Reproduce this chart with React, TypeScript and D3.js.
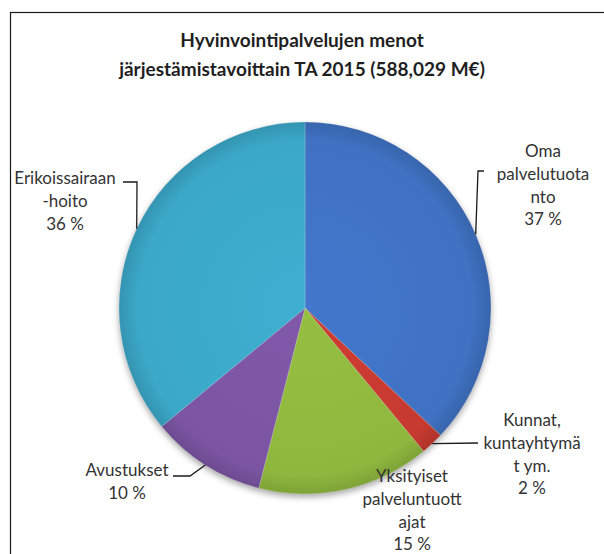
import React from 'react';
import * as d3 from 'd3';

// data
const categories = [
  'Oma palvelutuotanto',
  'Kunnat, kuntayhtymät ym.',
  'Yksityiset palveluntuottajat',
  'Avustukset',
  'Erikoissairaanhoito',
];
const shares = [37, 2, 15, 10, 36];
// label text as Excel wrapped it
const labelLines = [
  ['Oma', 'palvelutuota', 'nto'],
  ['Kunnat,', 'kuntayhtymä', 't ym.'],
  ['Yksityiset', 'palveluntuott', 'ajat'],
  ['Avustukset'],
  ['Erikoissairaan', '-hoito'],
];
const colors = ['#3F72C3', '#C63A30', '#8FB73E', '#7B55A3', '#3BA8C8'];
const titleLines = ['Hyvinvointipalvelujen menot', 'järjestämistavoittain TA 2015 (588,029 M€)'];

const W = 604;
const H = 554;
const cx = 305;
const cy = 308;
const R = 186;
const lineH = 22.8;

// label layout: [centre x, first line y]
const labelPos = [[543, 151], [532, 420], [412, 476], [127, 470], [65, 178]];
// leader start and elbow (end point comes from the slice mid angle)
const leaderPts: ([number, number][] | null)[] = [
  [[484, 171], [478, 171]],
  [[478, 443]],
  null,
  [[173, 476], [190, 476]],
  [[123, 182], [137, 182]],
];

const font = 'Lato, "Open Sans", sans-serif';

export default function App() {
  const pie = d3.pie<number>().sort(null).value(d => d);
  const arcs = pie(shares);
  const arc = d3.arc<d3.PieArcDatum<number>>().innerRadius(0).outerRadius(R);

  return (
    <svg width={W} height={H} style={{ position: 'absolute', left: 0, top: 0, background: '#fff' }}>
      <defs>
        {colors.map((c, i) => (
          <radialGradient key={i} id={'g' + i} gradientUnits="userSpaceOnUse" cx={0} cy={0} r={R}>
            <stop offset="0%" stopColor={d3.color(c)!.brighter(0.12).formatHex()} />
            <stop offset="90%" stopColor={c} />
            <stop offset="100%" stopColor={d3.color(c)!.darker(0.35).formatHex()} />
          </radialGradient>
        ))}
        <filter id="sh" x="-20%" y="-20%" width="140%" height="140%" colorInterpolationFilters="sRGB">
          <feDropShadow dx="0" dy="3" stdDeviation="3" floodColor="#000" floodOpacity="0.35" />
        </filter>
      </defs>

      <rect x={10.5} y={12.5} width={700} height={700} fill="#fff" stroke="#1a1a1a" strokeWidth={1.2} />

      <g fontFamily={font} fontWeight="bold" fontSize={19} fill="#1f1f1f" textAnchor="middle">
        {titleLines.map((t, i) => (
          <text key={i} x={302} y={40 + i * 29} dy="0.35em">{t}</text>
        ))}
      </g>

      <g transform={`translate(${cx},${cy})`} filter="url(#sh)">
        {arcs.map((a, i) => (
          <path key={categories[i]} d={arc(a)!} fill={`url(#g${i})`} stroke="#fff" strokeOpacity={0.3} strokeWidth={0.6} />
        ))}
      </g>

      <g fill="none" stroke="#1a1a1a" strokeWidth={1.3}>
        {arcs.map((a, i) => {
          const pts = leaderPts[i];
          if (!pts) return null;
          const m = (a.startAngle + a.endAngle) / 2;
          const end: [number, number] = [cx + R * Math.sin(m), cy - R * Math.cos(m)];
          return <path key={i} d={d3.line()([...pts, end])!} />;
        })}
      </g>

      <g fontFamily={font} fontSize={17} fill="#333" textAnchor="middle">
        {arcs.map((a, i) => {
          const [x, y] = labelPos[i];
          const lines = [...labelLines[i], `${shares[i]} %`];
          return (
            <text key={i}>
              {lines.map((l, j) => (
                <tspan key={j} x={x} y={y + j * lineH} dy="0.35em">{l}</tspan>
              ))}
            </text>
          );
        })}
      </g>
    </svg>
  );
}
